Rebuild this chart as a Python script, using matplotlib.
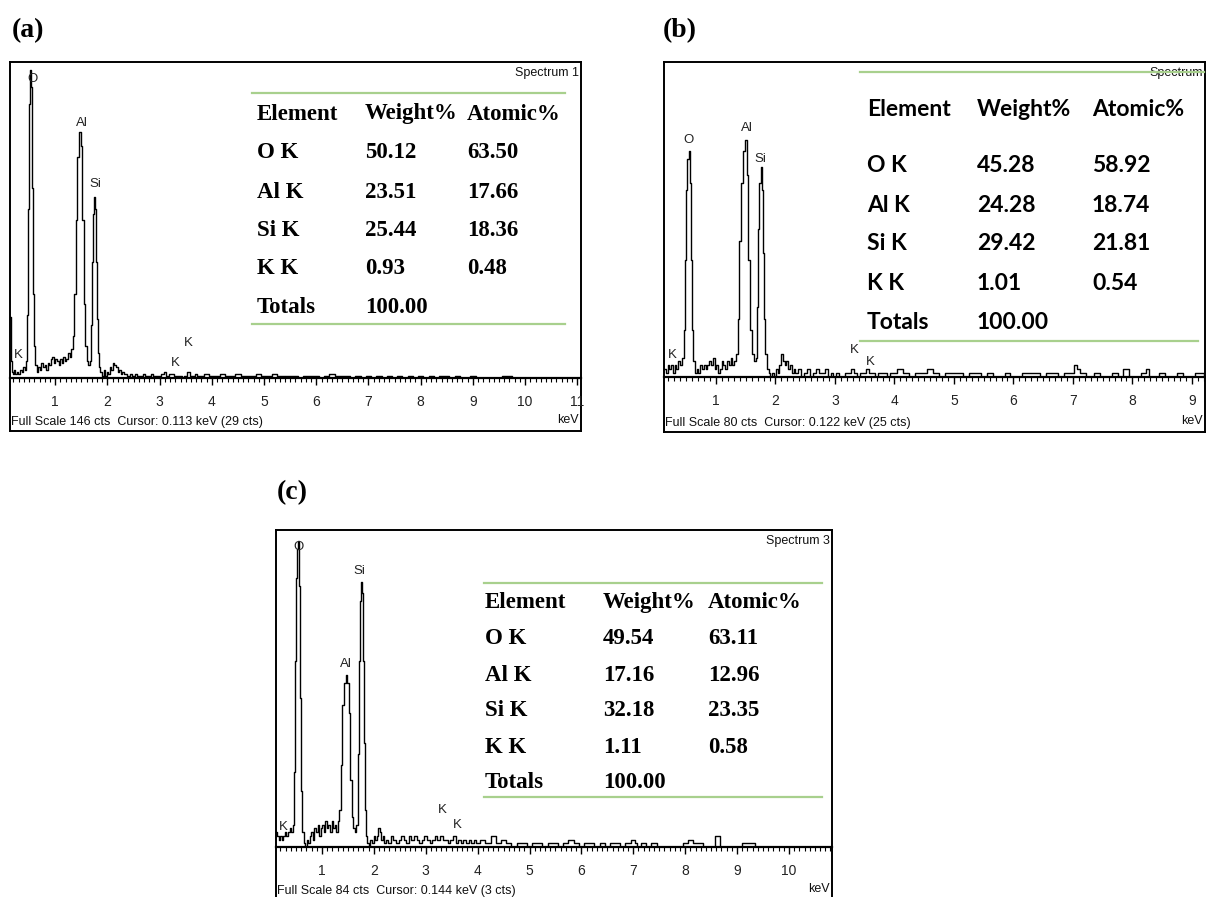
import matplotlib.pyplot as plt
from matplotlib.lines import Line2D

# EDS spectra of three samples, (a) (b) (c)

elements = ["O K", "Al K", "Si K", "K K"]
weight_a = [50.12, 23.51, 25.44, 0.93]
atomic_a = [63.50, 17.66, 18.36, 0.48]
weight_b = [45.28, 24.28, 29.42, 1.01]
atomic_b = [58.92, 18.74, 21.81, 0.54]
weight_c = [49.54, 17.16, 32.18, 1.11]
atomic_c = [63.11, 12.96, 23.35, 0.58]
total = 100.00

# spectrum (a): energy keV / counts
e_a = [0.13, 0.16, 0.18, 0.20, 0.22, 0.25, 0.28, 0.31, 0.34, 0.37, 0.40, 0.43,
       0.45, 0.47, 0.49, 0.51, 0.53, 0.55, 0.57, 0.59, 0.61, 0.63,
       0.66, 0.69, 0.72, 0.75, 0.78, 0.81, 0.84, 0.87, 0.90, 0.93, 0.96, 0.99,
       1.02, 1.05, 1.08, 1.11, 1.14, 1.17, 1.20, 1.23, 1.26, 1.29, 1.32,
       1.35, 1.38, 1.41, 1.44, 1.47, 1.50, 1.53, 1.56, 1.59, 1.62, 1.65, 1.67,
       1.69, 1.71, 1.73, 1.75, 1.77, 1.79, 1.81, 1.83, 1.85, 1.88,
       1.91, 1.94, 1.97, 2.00, 2.03, 2.06, 2.09, 2.12, 2.15, 2.18, 2.21, 2.24, 2.27, 2.30,
       2.35, 2.40, 2.45, 2.50, 2.55, 2.60, 2.65, 2.70, 2.75, 2.80, 2.85, 2.90, 2.95,
       3.00, 3.05, 3.10, 3.15, 3.20, 3.25, 3.30, 3.35, 3.40, 3.45, 3.50, 3.55, 3.60,
       3.65, 3.70, 3.75, 3.80, 3.9, 4.0, 4.1, 4.2, 4.3, 4.4, 4.5, 4.6, 4.7, 4.8, 4.9,
       5.0, 5.1, 5.2, 5.3, 5.4, 5.5, 5.6, 5.7, 5.8, 5.9, 6.0, 6.1, 6.2, 6.3, 6.4, 6.5,
       6.6, 6.7, 6.8, 6.9, 7.0, 7.1, 7.2, 7.3, 7.4, 7.5, 7.6, 7.7, 7.8, 7.9, 8.0, 8.1,
       8.2, 8.3, 8.4, 8.5, 8.6, 8.7, 8.8, 8.9, 9.0, 9.1, 9.2, 9.3, 9.4, 9.5, 9.6, 9.7,
       9.8, 10.0, 10.5, 11.0, 11.1]
c_a = [29, 8, 3, 2, 4, 2, 3, 2, 4, 3, 5, 4,
       8, 30, 80, 130, 146, 138, 90, 40, 15, 6,
       3, 5, 4, 7, 5, 6, 4, 7, 6, 9, 10, 7,
       9, 8, 6, 9, 7, 10, 8, 9, 12, 10, 14,
       20, 40, 75, 105, 117, 110, 75, 35, 15, 8, 6, 8,
       25, 55, 78, 86, 80, 55, 28, 12, 5, 3,
       1, 4, 1, 3, 2, 5, 4, 7, 6, 5, 3, 4, 2, 3,
       2, 1, 2, 1, 2, 1, 1, 2, 1, 1, 2, 1, 1,
       1, 2, 3, 1, 2, 2, 1, 1, 1, 0, 1, 3, 1,
       1, 2, 1, 1, 2, 1, 1, 2, 1, 1, 2, 1, 1, 1, 2,
       1, 1, 2, 1, 1, 1, 1, 0, 1, 1, 1, 0, 1, 2, 1, 1,
       1, 0, 1, 0, 1, 0, 1, 0, 1, 0, 1, 0, 1, 0, 1, 0,
       1, 0, 1, 1, 0, 1, 0, 0, 1, 0, 0, 0, 0, 0, 1, 1,
       0, 0, 0, 0, 0]

# spectrum (b)
e_b = [0.13, 0.14, 0.17, 0.20, 0.23, 0.26, 0.29, 0.32, 0.35, 0.38, 0.41, 0.44,
       0.47, 0.49, 0.51, 0.53, 0.55, 0.57, 0.59, 0.61, 0.63, 0.66,
       0.69, 0.72, 0.75, 0.78, 0.81, 0.84, 0.87, 0.90, 0.93, 0.96, 0.99, 1.02,
       1.05, 1.08, 1.11, 1.14, 1.17, 1.20, 1.23, 1.26, 1.29, 1.32, 1.35,
       1.38, 1.41, 1.44, 1.47, 1.50, 1.53, 1.56, 1.59, 1.62, 1.65, 1.68,
       1.70, 1.72, 1.74, 1.76, 1.78, 1.80, 1.82, 1.84, 1.87,
       1.90, 1.93, 1.96, 1.99, 2.02, 2.05, 2.08, 2.11, 2.14, 2.17, 2.20, 2.23, 2.26,
       2.29, 2.32, 2.35, 2.40, 2.45, 2.50, 2.55, 2.60, 2.65, 2.70, 2.75, 2.80, 2.85,
       2.90, 2.95, 3.00, 3.05, 3.10, 3.15, 3.20, 3.25, 3.30, 3.35, 3.40, 3.45, 3.50,
       3.55, 3.60, 3.65, 3.70, 3.75, 3.80, 3.85, 3.90, 3.95, 4.0, 4.1, 4.2, 4.3, 4.4,
       4.5, 4.6, 4.7, 4.8, 4.9, 5.0, 5.1, 5.2, 5.3, 5.4, 5.5, 5.6, 5.7, 5.8, 5.9, 6.0,
       6.1, 6.2, 6.3, 6.4, 6.5, 6.6, 6.7, 6.8, 6.9, 7.0, 7.05, 7.1, 7.15, 7.3, 7.4,
       7.5, 7.6, 7.7, 7.8, 7.9, 8.0, 8.1, 8.2, 8.25, 8.3, 8.4, 8.5, 8.6, 8.7, 8.8,
       8.9, 9.0, 9.1, 9.3]
c_b = [2, 2, 1, 3, 2, 3, 1, 3, 2, 4, 3, 5,
       12, 30, 48, 56, 58, 50, 30, 12, 4, 1,
       2, 1, 3, 2, 3, 2, 3, 4, 3, 5, 2, 3,
       1, 2, 4, 3, 2, 4, 3, 5, 3, 4, 6,
       15, 35, 50, 58, 61, 52, 30, 12, 6, 4, 5,
       18, 38, 50, 54, 48, 32, 15, 6, 2,
       1, 0, 1, 0, 2, 1, 3, 6, 4, 3, 4, 2, 3,
       1, 2, 1, 2, 0, 1, 2, 0, 1, 2, 1, 1, 2,
       0, 1, 0, 1, 0, 0, 1, 1, 2, 1, 0, 1, 1,
       2, 1, 1, 0, 1, 1, 1, 0, 1, 1, 2, 1, 0, 1,
       1, 2, 1, 0, 1, 1, 1, 0, 1, 1, 0, 1, 0, 0, 1, 0,
       0, 1, 1, 1, 0, 1, 1, 0, 1, 1, 3, 2, 1, 0, 1,
       0, 0, 1, 0, 2, 0, 0, 1, 2, 0, 0, 1, 0, 0, 1,
       0, 0, 1, 0]

# spectrum (c)
e_c = [0.12, 0.15, 0.18, 0.21, 0.24, 0.27, 0.30, 0.33, 0.36, 0.39, 0.42, 0.45,
       0.47, 0.49, 0.51, 0.53, 0.55, 0.57, 0.59, 0.61, 0.63, 0.66,
       0.69, 0.72, 0.75, 0.78, 0.81, 0.84, 0.87, 0.90, 0.93, 0.96, 0.99, 1.02,
       1.05, 1.08, 1.11, 1.14, 1.17, 1.20, 1.23, 1.26, 1.29, 1.32, 1.35,
       1.38, 1.41, 1.44, 1.47, 1.50, 1.53, 1.56, 1.59, 1.62, 1.65, 1.68,
       1.70, 1.72, 1.74, 1.76, 1.78, 1.80, 1.82, 1.84, 1.86,
       1.89, 1.92, 1.95, 1.98, 2.01, 2.04, 2.07, 2.10, 2.13, 2.16, 2.19, 2.22, 2.25,
       2.30, 2.35, 2.40, 2.45, 2.50, 2.55, 2.60, 2.65, 2.70, 2.75, 2.80, 2.85, 2.90,
       2.95, 3.00, 3.05, 3.10, 3.15, 3.20, 3.25, 3.30, 3.35, 3.40, 3.45, 3.50, 3.55,
       3.60, 3.65, 3.70, 3.75, 3.80, 3.85, 3.90, 3.95, 4.0, 4.1, 4.2, 4.3, 4.4, 4.5,
       4.6, 4.7, 4.8, 4.9, 5.0, 5.1, 5.2, 5.3, 5.4, 5.5, 5.6, 5.7, 5.8, 5.9, 6.0,
       6.1, 6.2, 6.3, 6.4, 6.5, 6.6, 6.7, 6.8, 6.9, 7.0, 7.05, 7.1, 7.2, 7.3, 7.4,
       7.5, 7.6, 7.7, 7.8, 7.9, 8.0, 8.1, 8.2, 8.3, 8.4, 8.5, 8.65, 8.7, 8.8, 8.9,
       9.0, 9.2, 9.3, 9.4, 9.6, 10.0, 10.5, 10.9]
c_c = [4, 3, 2, 3, 2, 3, 4, 3, 4, 5, 4, 6,
       20, 50, 72, 80, 82, 70, 40, 15, 4, 1,
       0, 2, 1, 3, 4, 2, 5, 4, 6, 3, 5, 6,
       4, 7, 5, 6, 4, 7, 5, 6, 4, 7, 10,
       22, 38, 44, 46, 44, 36, 18, 8, 5, 4, 6,
       25, 50, 66, 71, 68, 50, 28, 10, 3,
       1, 0, 2, 1, 3, 2, 3, 5, 4, 2, 3, 1, 2,
       1, 3, 2, 1, 2, 3, 2, 1, 3, 2, 3, 2, 1,
       2, 3, 2, 1, 2, 3, 2, 3, 2, 2, 1, 2, 3,
       1, 2, 1, 2, 1, 2, 1, 2, 1, 2, 1, 3, 1, 2,
       1, 0, 1, 1, 0, 1, 1, 0, 1, 1, 0, 1, 2, 1, 0,
       1, 1, 0, 1, 0, 1, 1, 0, 1, 2, 1, 0, 1, 0, 1,
       0, 0, 0, 0, 0, 1, 2, 1, 1, 0, 0, 3, 0, 0, 0,
       0, 1, 1, 0, 0, 0, 0, 0]

peak_labels = ["O", "Al", "Si", "K", "K", "K"]
lab_e_a = [0.56, 1.51, 1.76, 0.29, 3.30, 3.54]
lab_c_a = [142, 121, 92, 11, 7, 16.5]
lab_e_b = [0.53, 1.52, 1.74, 0.26, 3.32, 3.59]
lab_c_b = [61, 64, 56, 5.6, 6.9, 3.8]
lab_e_c = [0.54, 1.46, 1.73, 0.25, 3.31, 3.60]
lab_c_c = [80.5, 49, 74, 5.3, 9.9, 5.9]

W, H = 1206, 897
fig = plt.figure(figsize=(W / 100, H / 100), dpi=100)

SMALL = ['Liberation Sans']
SERIF = ['Liberation Serif']
GREEN = '#a8d08d'


def fig_line(x0, x1, y):
    fig.add_artist(Line2D([x0 / W, x1 / W], [1 - y / H, 1 - y / H], color=GREEN, lw=1.6))


def panel(frame, base, xlim, ymax, e, c, lab_e, lab_c, full_txt, spec_txt):
    x0, y0, x1, y1 = frame
    fw, fh = x1 - x0, y1 - y0
    axf = fig.add_axes([x0 / W, 1 - y1 / H, fw / W, fh / H])
    axf.set_xticks([])
    axf.set_yticks([])
    for s in axf.spines.values():
        s.set_linewidth(1.4)

    def at(px, py):
        return (px - x0) / fw, (y1 - py) / fh

    axf.text(*at(x0 + 1, y1 - 9), full_txt, transform=axf.transAxes, ha='left', va='center',
             family=SMALL, fontsize=9, color='#111111')
    axf.text(*at(min(x1, 1205) - 2, y1 - 11), "keV", transform=axf.transAxes, ha='right',
             va='center', family=SMALL, fontsize=9, color='#111111')
    axf.text(*at(min(x1, 1205) - 2, y0 + 11), spec_txt, transform=axf.transAxes, ha='right',
             va='center', family=SMALL, fontsize=9, color='#111111')

    ax = fig.add_axes([x0 / W, 1 - base / H, fw / W, (base - y0) / H])
    ax.patch.set_alpha(0)
    ax.step(e, c, where='mid', color='black', lw=1.0)
    ax.set_xlim(*xlim)
    ax.set_ylim(0, ymax)
    for s in ['top', 'left', 'right']:
        ax.spines[s].set_visible(False)
    ax.spines['bottom'].set_linewidth(1.6)
    ax.set_yticks([])
    ax.set_xticks([t for t in range(1, 12) if xlim[0] < t < xlim[1]])
    ax.set_xticks([t / 10 for t in range(1, 115) if xlim[0] < t / 10 < xlim[1]], minor=True)
    ax.tick_params(axis='x', which='major', direction='out', length=5, width=1, pad=7,
                   labelsize=10)
    ax.tick_params(axis='x', which='minor', direction='out', length=3, width=0.8)
    for lb in ax.get_xticklabels():
        lb.set_family(SMALL)
        lb.set_color('#222222')
    for name, le, lc in zip(peak_labels, lab_e, lab_c):
        ax.text(le, lc, name, ha='center', va='center', family=SMALL, fontsize=9.5,
                color='#222222')
    return ax


def table(cols, rows, lines, font, size, weights, atomics):
    head = ["Element", "Weight%", "Atomic%"]
    kw = dict(ha='left', va='center', family=font, fontsize=size, fontweight='bold')
    for x, t in zip(cols, head):
        fig.text(x / W, 1 - rows[0] / H, t, **kw)
    for i, el in enumerate(elements):
        y = 1 - rows[i + 1] / H
        fig.text(cols[0] / W, y, el, **kw)
        fig.text(cols[1] / W, y, f"{weights[i]:.2f}", **kw)
        fig.text(cols[2] / W, y, f"{atomics[i]:.2f}", **kw)
    y = 1 - rows[5] / H
    fig.text(cols[0] / W, y, "Totals", **kw)
    fig.text(cols[1] / W, y, f"{total:.2f}", **kw)
    for (lx0, lx1, ly) in lines:
        fig_line(lx0, lx1, ly)


# (a)
panel((10, 62, 581, 431), 378, (0.134, 11.07), 150, e_a, c_a, lab_e_a, lab_c_a,
      "Full Scale 146 cts  Cursor: 0.113 keV (29 cts)", "Spectrum 1")
table([257, 365, 467], [114, 153, 192, 230, 269, 307], [(252, 565, 93), (252, 565, 324)],
      SERIF, 16.5, weight_a, atomic_a)

# (b)
panel((664, 62, 1205, 432), 377, (0.126, 9.22), 81, e_b, c_b, lab_e_b, lab_c_b,
      "Full Scale 80 cts  Cursor: 0.122 keV (25 cts)", "Spectrum")
table([867, 977, 1092], [110, 166, 205, 244, 283, 322], [(860, 1204, 72), (860, 1198, 341)],
      ['Lato', 'DejaVu Sans'], 16.5, weight_b, atomic_b)

# (c)
panel((276, 530, 832, 900), 847, (0.114, 10.83), 85, e_c, c_c, lab_e_c, lab_c_c,
      "Full Scale 84 cts  Cursor: 0.144 keV (3 cts)", "Spectrum 3")
table([485, 603, 708], [602, 638, 675, 710, 747, 782], [(484, 822, 583), (484, 822, 797)],
      SERIF, 16.5, weight_c, atomic_c)

for lbl, x, y in [("(a)", 12, 31), ("(b)", 663, 31), ("(c)", 277, 493)]:
    fig.text(x / W, 1 - y / H, lbl, ha='left', va='center', family=SERIF, fontsize=20,
             fontweight='bold')

fig.savefig("out.png", dpi=100)
